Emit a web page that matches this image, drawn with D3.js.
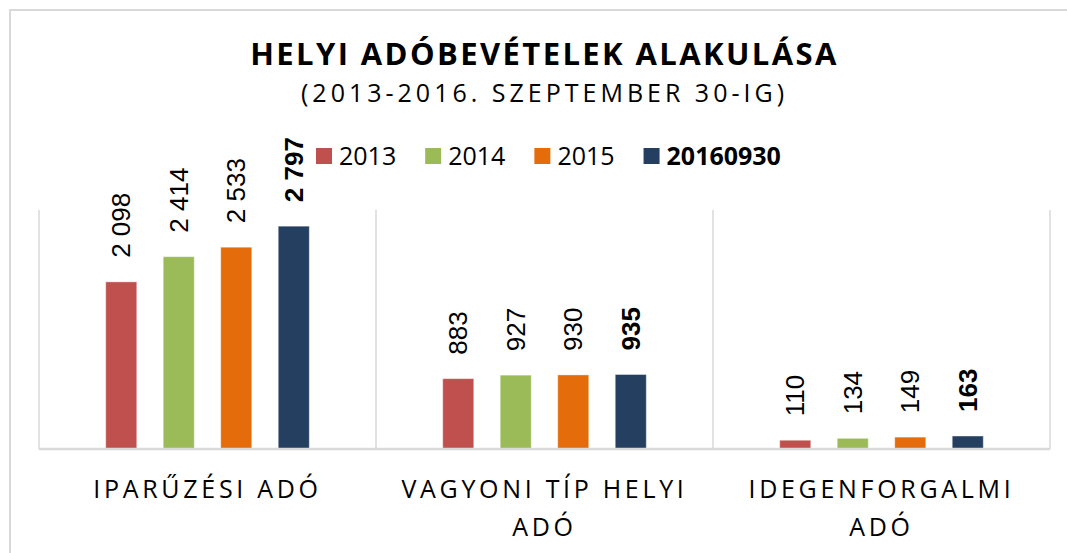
<!DOCTYPE html>
<html>
<head>
<meta charset="utf-8">
<script src="https://cdn.jsdelivr.net/npm/d3@7.9.0/dist/d3.min.js"></script>
<style>
  body { margin: 0; background: #fff; }
  svg { display: block; }
</style>
</head>
<body>
<svg id="chart" width="1067" height="553"></svg>
<script>
// data
const categories = [['IPARŰZÉSI ADÓ'], ['VAGYONI TÍP HELYI', 'ADÓ'], ['IDEGENFORGALMI', 'ADÓ']];
const seriesNames = ['2013', '2014', '2015', '20160930'];
const values2013 = [2098, 883, 110];
const values2014 = [2414, 927, 134];
const values2015 = [2533, 930, 149];
const values2016 = [2797, 935, 163];
const colors = ['#C0504D', '#9BBB59', '#E46C0A', '#243F60'];

const allValues = [values2013, values2014, values2015, values2016];

const svg = d3.select('#chart');
const W = 1067;
const plotLeft = 39, plotRight = 1050, plotTop = 210, plotBottom = 449;
const grey = '#d9d9d9';
const calibri = '"Open Sans", sans-serif';

// chart frame (cropped)
svg.append('path')
  .attr('d', `M10,${553} L10,10 L${W},10`)
  .attr('fill', 'none')
  .attr('stroke', grey)
  .attr('stroke-width', 2);

const x0 = d3.scaleBand()
  .domain(d3.range(categories.length))
  .range([plotLeft, plotRight]);

const x1 = d3.scaleBand()
  .domain(seriesNames)
  .range([0, x0.bandwidth()])
  .paddingInner(0.46)
  .paddingOuter(1.16);

const y = d3.scaleLinear().domain([0, 3000]).range([plotBottom, plotTop]);

// vertical separators
svg.append('g')
  .selectAll('line')
  .data(d3.range(categories.length + 1))
  .join('line')
  .attr('x1', (i) => plotLeft + i * x0.step())
  .attr('x2', (i) => plotLeft + i * x0.step())
  .attr('y1', plotTop)
  .attr('y2', plotBottom)
  .attr('stroke', grey)
  .attr('stroke-width', 1.5);

// bars
const groups = svg.append('g')
  .selectAll('g')
  .data(categories.map((c, i) => i))
  .join('g')
  .attr('transform', (i) => `translate(${x0(i)},0)`);

const fmt = d3.formatLocale({ decimal: ',', thousands: '\u00a0', grouping: [3], currency: ['', ''] }).format(',d');

groups.selectAll('rect')
  .data((i) => seriesNames.map((s, k) => ({ s, k, v: allValues[k][i] })))
  .join('rect')
  .attr('x', (d) => x1(d.s))
  .attr('y', (d) => y(d.v))
  .attr('width', x1.bandwidth())
  .attr('height', (d) => y(0) - y(d.v))
  .attr('fill', (d) => colors[d.k])
  .attr('stroke', '#fff')
  .attr('stroke-opacity', 0.4)
  .attr('stroke-width', 1);

groups.selectAll('text')
  .data((i) => seriesNames.map((s, k) => ({ s, k, v: allValues[k][i] })))
  .join('text')
  .attr('transform', (d) => `translate(${x1(d.s) + x1.bandwidth() / 2 + 9},${y(d.v) - 24}) rotate(-90)`)
  .attr('font-family', '"Liberation Sans", Arial, sans-serif')
  .attr('font-size', 26)
  .attr('font-weight', (d) => (d.k === 3 ? 'bold' : 'normal'))
  .attr('fill', '#000')
  .text((d) => fmt(d.v));

// baseline
svg.append('line')
  .attr('x1', plotLeft).attr('x2', plotRight)
  .attr('y1', plotBottom).attr('y2', plotBottom)
  .attr('stroke', grey)
  .attr('stroke-width', 2.5);

// category labels
categories.forEach((lines, i) => {
  lines.forEach((line, j) => {
    svg.append('text')
      .attr('x', x0(i) + x0.bandwidth() / 2)
      .attr('y', 498 + j * 38)
      .attr('text-anchor', 'middle')
      .attr('font-family', calibri)
      .attr('font-size', 25)
      .attr('letter-spacing', 3.7)
      .attr('fill', '#000')
      .text(line);
  });
});

// title
const cx = (plotLeft + plotRight) / 2;
svg.append('text')
  .attr('x', cx).attr('y', 65)
  .attr('text-anchor', 'middle')
  .attr('font-family', calibri)
  .attr('font-weight', 'bold')
  .attr('font-size', 31)
  .attr('letter-spacing', 2.4)
  .text('HELYI ADÓBEVÉTELEK ALAKULÁSA');

svg.append('text')
  .attr('x', cx).attr('y', 102)
  .attr('text-anchor', 'middle')
  .attr('font-family', calibri)
  .attr('font-size', 25)
  .attr('letter-spacing', 4)
  .text('(2013-2016. SZEPTEMBER 30-IG)');

// legend
let lx = 316;
seriesNames.forEach((name, k) => {
  svg.append('rect')
    .attr('x', lx).attr('y', 148)
    .attr('width', 16).attr('height', 16)
    .attr('fill', colors[k]);
  const t = svg.append('text')
    .attr('x', lx + 23).attr('y', 165)
    .attr('font-family', calibri)
    .attr('font-size', 25)
    .attr('font-weight', k === 3 ? 'bold' : 'normal')
    .text(name);
  lx += 23 + t.node().getComputedTextLength() + 29;
});
</script>
</body>
</html>
